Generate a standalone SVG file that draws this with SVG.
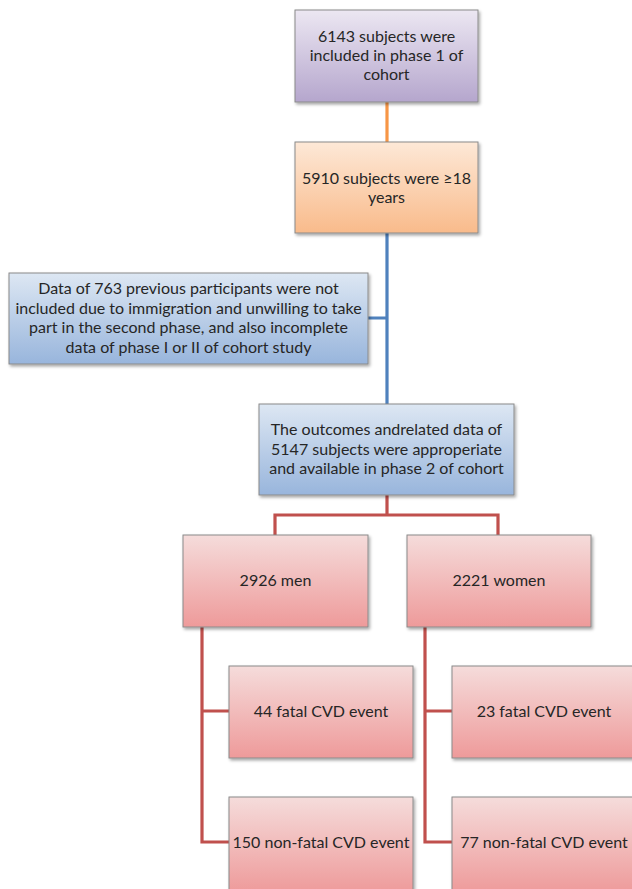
<svg xmlns="http://www.w3.org/2000/svg" width="632" height="889" viewBox="0 0 632 889">
<defs>
<linearGradient id="gPurple" x1="0" y1="0" x2="0" y2="1"><stop offset="0" stop-color="#ece7f2"/><stop offset="1" stop-color="#b5a6cd"/></linearGradient>
<linearGradient id="gOrange" x1="0" y1="0" x2="0" y2="1"><stop offset="0" stop-color="#fde8d7"/><stop offset="1" stop-color="#f9bb8b"/></linearGradient>
<linearGradient id="gBlue" x1="0" y1="0" x2="0" y2="1"><stop offset="0" stop-color="#dde7f3"/><stop offset="1" stop-color="#98b5dc"/></linearGradient>
<linearGradient id="gRed" x1="0" y1="0" x2="0" y2="1"><stop offset="0" stop-color="#f5dcdb"/><stop offset="1" stop-color="#ee9a9a"/></linearGradient>
<filter id="sh" x="-10%" y="-10%" width="125%" height="130%"><feDropShadow dx="1.5" dy="2" stdDeviation="1.5" flood-color="#000" flood-opacity="0.35"/></filter>
</defs>
<style>
.box{stroke:#8a8a8a;stroke-width:1;filter:url(#sh);}
.t{font-family:Lato,"Liberation Sans",sans-serif;font-size:16px;fill:#262626;text-anchor:middle;}
.c{fill:none;stroke-width:3.2;}
.co{stroke:#f79646;}
.cb{stroke:#4f81bd;}
.cr{stroke:#c0504d;}
</style>
<rect width="632" height="889" fill="#ffffff"/>
<g id="connectors">
<path class="c co" d="M387,102 V142"/>
<path class="c cb" d="M387,233 V404 M368,318 H387"/>
<path class="c cr" d="M387,495 V515 M275,535 V515 H498 V535"/>
<path class="c cr" d="M229,711 H202 V842 H229 M202,627 V711"/>
<path class="c cr" d="M452,711 H425 V842 H452 M425,627 V711"/>
</g>
<g id="n1">
<rect class="box" x="295" y="10" width="183" height="92" fill="url(#gPurple)"/>
<text class="t" x="386.5" y="42">6143 subjects were</text>
<text class="t" x="386.5" y="61">included in phase 1 of</text>
<text class="t" x="386.5" y="80">cohort</text>
</g>
<g id="n2">
<rect class="box" x="295" y="142" width="183" height="91" fill="url(#gOrange)"/>
<text class="t" x="386.5" y="184">5910 subjects were ≥18</text>
<text class="t" x="386.5" y="203">years</text>
</g>
<g id="n3">
<rect class="box" x="9" y="273" width="359" height="91" fill="url(#gBlue)"/>
<text class="t" x="188.5" y="294">Data of 763 previous participants were not</text>
<text class="t" x="188.5" y="314">included due to immigration and unwilling to take</text>
<text class="t" x="188.5" y="333">part in the second phase, and also incomplete</text>
<text class="t" x="188.5" y="353">data of phase I or II of cohort study</text>
</g>
<g id="n4">
<rect class="box" x="259" y="404" width="255" height="91" fill="url(#gBlue)"/>
<text class="t" x="386.5" y="435">The outcomes andrelated data of</text>
<text class="t" x="386.5" y="455">5147 subjects were approperiate</text>
<text class="t" x="386.5" y="474">and available in phase 2 of cohort</text>
</g>
<g id="n5">
<rect class="box" x="183" y="535" width="185" height="92" fill="url(#gRed)"/>
<text class="t" x="275.5" y="586">2926 men</text>
</g>
<g id="n6">
<rect class="box" x="407" y="535" width="184" height="92" fill="url(#gRed)"/>
<text class="t" x="499" y="586">2221 women</text>
</g>
<g id="n7">
<rect class="box" x="229" y="666" width="184" height="92" fill="url(#gRed)"/>
<text class="t" x="321" y="717">44 fatal CVD event</text>
</g>
<g id="n8">
<rect class="box" x="229" y="797" width="184" height="96" fill="url(#gRed)"/>
<text class="t" x="321" y="848">150 non-fatal CVD event</text>
</g>
<g id="n9">
<rect class="box" x="452" y="666" width="186" height="92" fill="url(#gRed)"/>
<text class="t" x="544" y="717">23 fatal CVD event</text>
</g>
<g id="n10">
<rect class="box" x="452" y="797" width="186" height="96" fill="url(#gRed)"/>
<text class="t" x="544" y="848">77 non-fatal CVD event</text>
</g>
</svg>
